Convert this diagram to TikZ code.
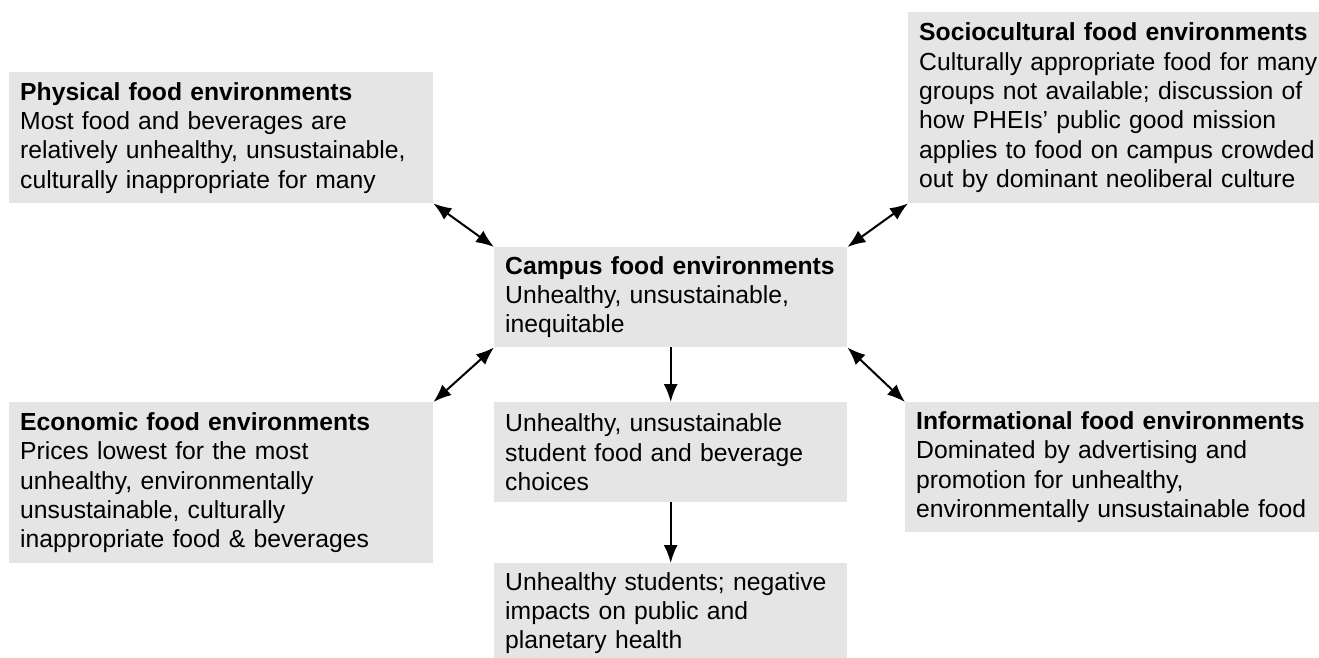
\documentclass[tikz,border=0pt]{standalone}
\usepackage{fontspec}
\setmainfont{Liberation Sans}
\usetikzlibrary{arrows.meta}
\definecolor{boxgray}{RGB}{229,229,229}
\tikzset{
  envbox/.style={fill=boxgray, anchor=north west, align=left, inner xsep=11pt, inner ysep=3pt,
    font=\fontsize{24.7}{29.3}\selectfont},
  link/.style={line width=2pt, {Latex[length=18pt,width=14pt]}-{Latex[length=18pt,width=14pt]}},
  flow/.style={line width=2pt, -{Latex[length=18pt,width=14pt]}}
}
\begin{document}
\begin{tikzpicture}
[x=1pt,y=-1pt]
\useasboundingbox (0,0) rectangle (1319,657);
% outer environments
\node [envbox, text width=402pt, minimum height=131pt] (phys) at (9,72)
  {\textbf{Physical food environments}\\Most food and beverages are\\relatively unhealthy, unsustainable,\\culturally inappropriate for many};
\node [envbox, text width=410pt, minimum height=191pt] (socio) at (908,12)
  {\textbf{Sociocultural food environments}\\Culturally appropriate food for many\\groups not available; discussion of\\how PHEIs’ public good mission\\applies to food on campus crowded\\out by dominant neoliberal culture};
\node [envbox, text width=402pt, minimum height=161pt] (econ) at (9,402)
  {\textbf{Economic food environments}\\Prices lowest for the most\\unhealthy, environmentally\\unsustainable, culturally\\inappropriate food \& beverages};
\node [envbox, text width=410pt, minimum height=130pt] (info) at (905,402)
  {\textbf{Informational food environments}\\Dominated by advertising and\\promotion for unhealthy,\\environmentally unsustainable food};
% middle column
\node [envbox, text width=331pt, minimum height=100pt] (campus) at (494,247)
  {\textbf{Campus food environments}\\Unhealthy, unsustainable,\\inequitable};
\node [envbox, text width=331pt, minimum height=100pt] (choice) at (494,402)
  {Unhealthy, unsustainable\\student food and beverage\\choices};
\node [envbox, text width=331pt, minimum height=100pt] (health) at (494,563)
  {Unhealthy students; negative\\impacts on public and\\planetary health};
% connectors
\draw [link] (phys.south east) -- (campus.north west);
\draw [link] (socio.south west) -- (campus.north east);
\draw [link] (econ.north east) -- (campus.south west);
\draw [link] (info.north west) -- (campus.south east);
\draw [flow] (campus.south) -- (choice.north);
\draw [flow] (choice.south) -- (health.north);
\end{tikzpicture}
\end{document}
